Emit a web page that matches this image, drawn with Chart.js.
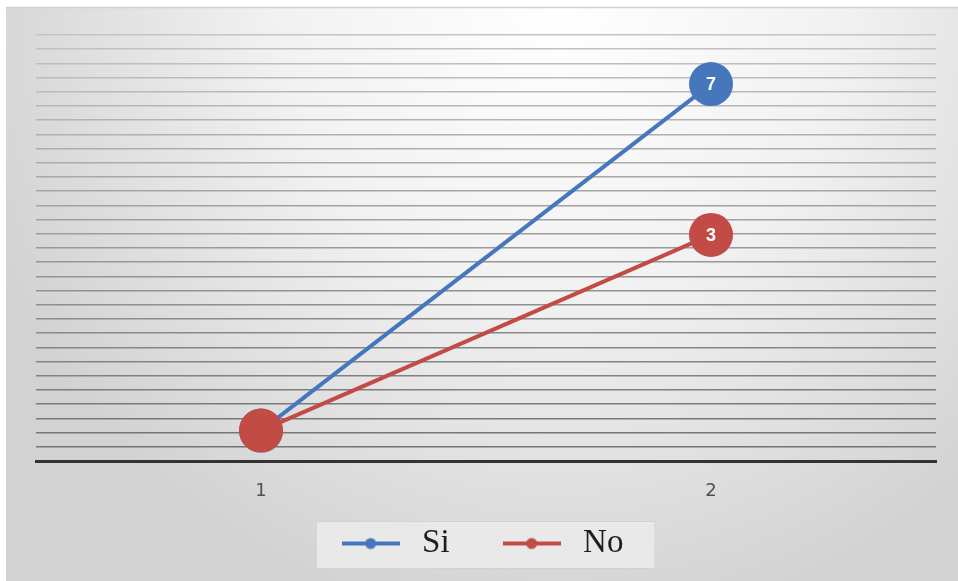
<!DOCTYPE html>
<html>
<head>
<meta charset="utf-8">
<title>Si / No</title>
<script src="https://cdn.jsdelivr.net/npm/chart.js@4.4.1/dist/chart.umd.min.js"></script>
<style>
  html, body { margin: 0; padding: 0; background: #ffffff; }
  #wrap { width: 958px; height: 581px; }
</style>
</head>
<body>
<div id="wrap"><canvas id="chart" width="958" height="581"></canvas></div>
<script>
// Categories and series
const categories = ['1', '2'];
const seriesNames = ['Si', 'No'];
const siValues = [1, 7];
const noValues = [1, 3];

// Horizontal rule count on the plot background
const gridSteps = 30;

const siColor = '#4677bd';
const noColor = '#c34b46';

// Small line-with-dot marker used in the legend
function legendMarker(color) {
  const c = document.createElement('canvas');
  c.width = 58; c.height = 14;
  const g = c.getContext('2d');
  g.strokeStyle = color;
  g.lineWidth = 4;
  g.beginPath(); g.moveTo(0, 7); g.lineTo(58, 7); g.stroke();
  g.fillStyle = color;
  g.beginPath(); g.arc(29, 7, 5.5, 0, Math.PI * 2); g.fill();
  return c;
}

// Panel background and framed legend
const panelPlugin = {
  id: 'panel',
  beforeDraw(chart) {
    const ctx = chart.ctx;
    const W = chart.width, H = chart.height;
    ctx.save();
    ctx.fillStyle = '#ffffff';
    ctx.fillRect(0, 0, W, H);
    ctx.beginPath();
    ctx.rect(6, 7, W - 6, H - 7);
    ctx.clip();
    ctx.save();
    ctx.translate(560, 0);
    ctx.scale(620 / 640, 1);
    const g = ctx.createRadialGradient(0, 0, 0, 0, 0, 640);
    g.addColorStop(0, '#ffffff');
    g.addColorStop(0.45, '#f2f2f2');
    g.addColorStop(0.8, '#dddddd');
    g.addColorStop(1, '#d2d2d2');
    ctx.fillStyle = g;
    ctx.fillRect(-2000, -100, 4000, 2000);
    ctx.restore();
    ctx.restore();
    // top edge of the panel
    ctx.save();
    ctx.strokeStyle = '#cfcfcf';
    ctx.lineWidth = 1.5;
    ctx.beginPath(); ctx.moveTo(6, 7.5); ctx.lineTo(W, 7.5); ctx.stroke();
    ctx.restore();

    // legend frame
    const boxes = chart.legend && chart.legend.legendHitBoxes;
    if (boxes && boxes.length) {
      let l = Infinity, r = -Infinity, t = Infinity, b = -Infinity;
      boxes.forEach(h => {
        l = Math.min(l, h.left); r = Math.max(r, h.left + h.width);
        t = Math.min(t, h.top); b = Math.max(b, h.top + h.height);
      });
      ctx.save();
      ctx.fillStyle = '#e9e9e9';
      ctx.strokeStyle = '#d2d2d2';
      ctx.lineWidth = 1;
      ctx.fillRect(l - 19, t - 5, (r + 32) - (l - 19), (b + 9) - (t - 5));
      ctx.strokeRect(l - 19.5, t - 5.5, (r + 32) - (l - 19), (b + 9) - (t - 5));
      ctx.restore();
    }
  }
};

// Value labels drawn inside the last marker of each series
const valueLabelPlugin = {
  id: 'valueLabels',
  afterDatasetsDraw(chart) {
    const ctx = chart.ctx;
    ctx.save();
    ctx.fillStyle = '#ffffff';
    ctx.font = 'bold 18px "Liberation Sans", Arial, sans-serif';
    ctx.textAlign = 'center';
    ctx.textBaseline = 'middle';
    chart.data.datasets.forEach((ds, i) => {
      const meta = chart.getDatasetMeta(i);
      const last = ds.data.length - 1;
      const pt = meta.data[last];
      if (pt) ctx.fillText(String(ds.data[last]), pt.x, pt.y + 1);
    });
    ctx.restore();
  }
};

const chart = new Chart(document.getElementById('chart'), {
  type: 'line',
  data: {
    labels: categories,
    datasets: [
      {
        label: seriesNames[0],
        data: siValues,
        borderColor: siColor,
        backgroundColor: siColor,
        pointBackgroundColor: siColor,
        borderWidth: 4,
        pointRadius: 22,
        pointHoverRadius: 22,
        pointBorderWidth: 0,
        tension: 0,
        order: 2,
        yAxisID: 'y'
      },
      {
        label: seriesNames[1],
        data: noValues,
        borderColor: noColor,
        backgroundColor: noColor,
        pointBackgroundColor: noColor,
        borderWidth: 4,
        pointRadius: 22,
        pointHoverRadius: 22,
        pointBorderWidth: 0,
        tension: 0,
        order: 1,
        yAxisID: 'y'
      }
    ]
  },
  options: {
    responsive: false,
    animation: false,
    events: [],
    layout: { padding: { left: 21, right: 20, top: 35, bottom: 11 } },
    plugins: {
      tooltip: { enabled: false },
      legend: {
        position: 'bottom',
        labels: {
          usePointStyle: true,
          pointStyleWidth: 70,
          padding: 47,
          color: '#1e1e1e',
          font: { family: '"Liberation Serif", "Times New Roman", serif', size: 33 },
          generateLabels(ch) {
            return ch.data.datasets.map((ds, i) => ({
              text: ds.label,
              datasetIndex: i,
              pointStyle: legendMarker(ds.borderColor),
              fillStyle: 'transparent',
              strokeStyle: 'transparent',
              lineWidth: 0,
              fontColor: '#1e1e1e',
              hidden: false
            }));
          }
        }
      }
    },
    scales: {
      x: {
        type: 'category',
        offset: true,
        grid: { display: false, drawTicks: false },
        border: { display: true, color: '#333333', width: 3 },
        ticks: {
          color: '#505050',
          mirror: true,
          padding: -41,
          font: { family: '"DejaVu Sans", sans-serif', size: 18 }
        },
        afterFit(scale) { scale.height = 19; }
      },
      y: {
        type: 'logarithmic',
        display: false,
        min: 0.843,
        max: 9.22
      },
      rules: {
        type: 'linear',
        position: 'left',
        min: 0,
        max: gridSteps,
        grid: {
          drawTicks: false,
          lineWidth: 1.5,
          color(c) {
            const t = c.tick ? c.tick.value / gridSteps : 0;
            const v = Math.round(112 + t * 84);
            return 'rgb(' + v + ',' + v + ',' + v + ')';
          }
        },
        border: { display: false },
        ticks: { display: false, stepSize: 1, maxTicksLimit: 100, font: { size: 6 } },
        afterFit(scale) { scale.width = 15; }
      }
    }
  },
  plugins: [panelPlugin, valueLabelPlugin]
});
</script>
</body>
</html>
